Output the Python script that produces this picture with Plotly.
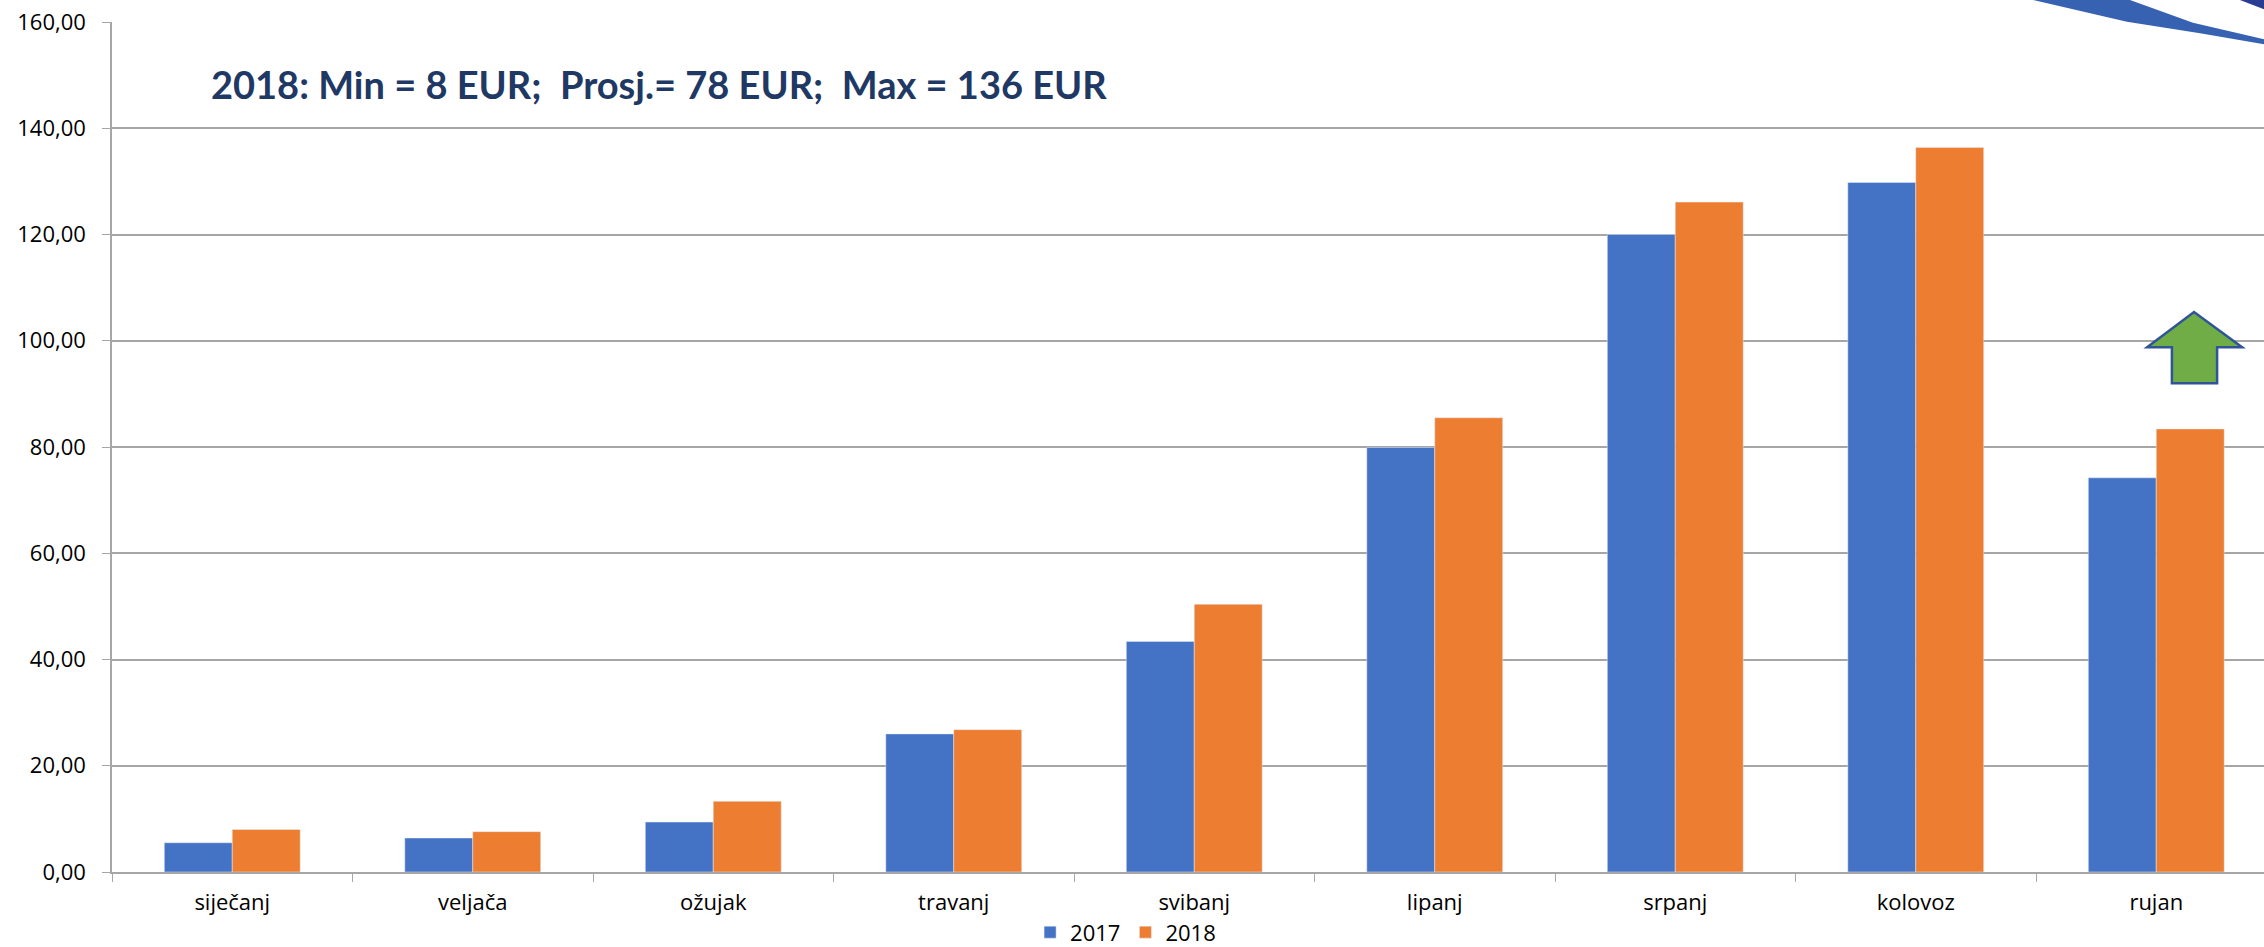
import plotly.graph_objects as go

# mjeseci i vrijednosti (EUR)
mjeseci = ["siječanj", "veljača", "ožujak", "travanj", "svibanj",
           "lipanj", "srpanj", "kolovoz", "rujan"]
vrijednosti_2017 = [5.5, 6.4, 9.4, 26.0, 43.4, 79.9, 120.0, 129.8, 74.2]
vrijednosti_2018 = [8.0, 7.6, 13.3, 26.8, 50.4, 85.5, 126.1, 136.4, 83.4]

naslov = "2018: Min = 8 EUR;\u00a0 Prosj.= 78 EUR;\u00a0 Max = 136 EUR"

plava = "#4472C4"
narancasta = "#ED7D31"
siva = "#A6A6A6"

fig = go.Figure()
fig.add_trace(go.Bar(x=mjeseci, y=vrijednosti_2017, name="2017",
                     marker_color=plava))
fig.add_trace(go.Bar(x=mjeseci, y=vrijednosti_2018, name="2018",
                     marker_color=narancasta))

# zelena strelica iznad rujna
fig.add_shape(type="path", xref="x", yref="y",
              path="M 7.962 98.8 L 8.157 105.4 L 8.357 98.8 L 8.253 98.8 "
                   "L 8.253 92.0 L 8.065 92.0 L 8.065 98.8 Z",
              fillcolor="#70AD47", line=dict(color="#2F5597", width=2.5))

# plavi ukras gore desno
fig.add_shape(type="path", xref="paper", yref="paper", layer="below",
              path="M 0.8927 1.0259 L 0.9377 1.0259 L 0.967 0.9992 "
                   "L 1.0 0.9796 L 1.0 0.9738 L 0.9703 0.9867 "
                   "L 0.9363 1.0004 Z",
              fillcolor="#3762B2", line=dict(width=0))
fig.add_shape(type="path", xref="paper", yref="paper", layer="below",
              path="M 0.9888 1.0259 L 1.0 1.0259 L 1.0 1.015 Z",
              fillcolor="#2B3C93", line=dict(width=0))

fig.add_annotation(text=naslov, xref="paper", yref="paper",
                   x=0.254, y=0.927, xanchor="center", yanchor="middle",
                   showarrow=False,
                   font=dict(family="Lato", size=38, color="#203864",
                             weight="bold"))

fig.update_layout(
    width=2264, height=947,
    margin=dict(l=112, r=0, t=22, b=75, autoexpand=False),
    paper_bgcolor="white", plot_bgcolor="rgba(0,0,0,0)",
    separators=",.",
    barmode="group", bargap=0.435, bargroupgap=0,
    font=dict(family="Open Sans", size=22, color="black"),
    legend=dict(orientation="h", x=0.471, y=-0.071, xanchor="center",
                yanchor="middle", font=dict(size=22), traceorder="normal"),
)
fig.update_xaxes(range=[-0.5, 8.448], showline=True, linecolor=siva,
                 linewidth=1.5, ticks="outside", tickson="boundaries",
                 ticklen=8, tickcolor=siva, ticklabelstandoff=10,
                 showgrid=False)
fig.update_yaxes(range=[0, 160], dtick=20, tickformat=".2f",
                 showline=True, linecolor=siva, linewidth=1.5,
                 ticks="outside", ticklen=8, tickcolor=siva,
                 ticklabelstandoff=12,
                 gridcolor=siva, gridwidth=1.5, zeroline=False)

fig.write_html("out.html", config={"displayModeBar": False},
               post_script="document.body.style.margin='0';"
                           "document.body.style.overflow='hidden';")
